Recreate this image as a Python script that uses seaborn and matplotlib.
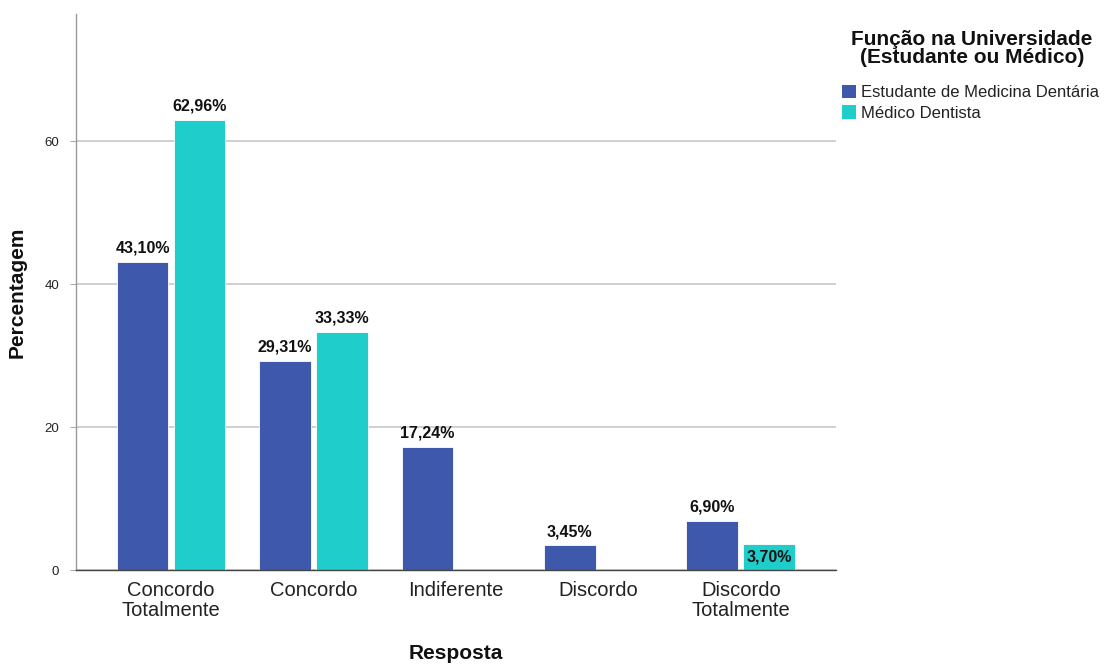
import matplotlib
matplotlib.use("Agg")
import matplotlib.pyplot as plt
from matplotlib import font_manager
import seaborn as sns
import pandas as pd

categories = ["Concordo\nTotalmente", "Concordo", "Indiferente", "Discordo", "Discordo\nTotalmente"]
groups = ["Estudante de Medicina Dentária", "Médico Dentista"]
estudante = [43.10, 29.31, 17.24, 3.45, 6.90]
medico = [62.96, 33.33, None, None, 3.70]
y_ticks = [0, 20, 40, 60]

colors = ["#3E58AC", "#1FCECB"]

rows = []
for cat, v in zip(categories, estudante):
    rows.append({"Resposta": cat, "Grupo": groups[0], "Percentagem": v})
for cat, v in zip(categories, medico):
    rows.append({"Resposta": cat, "Grupo": groups[1], "Percentagem": v})
df = pd.DataFrame(rows)

sns.set_theme(style="white")
available = {f.name for f in font_manager.fontManager.ttflist}
base_font = "Liberation Sans" if "Liberation Sans" in available else "DejaVu Sans"
label_font = "Liberation Sans Narrow" if "Liberation Sans Narrow" in available else base_font
plt.rcParams["font.family"] = [base_font, "DejaVu Sans"]

fig = plt.figure(figsize=(11.1, 6.66), dpi=100)
ax = fig.add_axes([0.0685, 0.144, 0.6845, 0.835])

sns.barplot(data=df, x="Resposta", y="Percentagem", hue="Grupo",
            order=categories, hue_order=groups, palette=colors,
            width=0.8, gap=0.09, dodge=True, saturation=1, errorbar=None,
            ax=ax, legend=False, edgecolor="white", linewidth=0.6)

ax.set_xlim(-0.667, 4.667)
ax.set_ylim(0, 77.8)
ax.set_yticks(y_ticks)
ax.set_yticklabels([str(t) for t in y_ticks], fontsize=9.5, color="#222222")
ax.tick_params(axis="y", length=4, width=0.8, color="#aaaaaa", pad=8, left=True)
ax.set_xticks(range(len(categories)))
ax.set_xticklabels(categories, fontsize=14.5, color="#222222", linespacing=1.05)
ax.tick_params(axis="x", length=0, pad=8)

ax.yaxis.grid(True, color="#c8c8c8", linewidth=1.2)
ax.set_axisbelow(True)
for s in ["top", "right"]:
    ax.spines[s].set_visible(False)
ax.spines["left"].set_color("#999999")
ax.spines["left"].set_linewidth(1.0)
ax.spines["bottom"].set_color("#444444")
ax.spines["bottom"].set_linewidth(1.0)

ax.set_xlabel("Resposta", fontsize=15, fontweight="bold", color="#111111")
ax.xaxis.set_label_coords(0.5, -0.133)
ax.set_ylabel("Percentagem", fontsize=15, fontweight="bold", color="#111111")
ax.yaxis.set_label_coords(-0.0645, 0.5)

# value labels, drawn from the same values as the bars
for container, values, inside_small in zip(ax.containers, [estudante, medico], [False, True]):
    for patch in container.patches:
        x = patch.get_x() + patch.get_width() / 2
        idx = int(round(x))
        v = values[idx]
        if v is None:
            continue
        text = f"{v:.2f}%".replace(".", ",")
        if inside_small and v < 5:
            ax.annotate(text, (x, v / 2), ha="center", va="center",
                        fontsize=11.5, fontweight="bold", family=label_font, color="#111111")
        else:
            ax.annotate(text, (x, v), xytext=(0, 4.5), textcoords="offset points",
                        ha="center", va="bottom", fontsize=11.5, fontweight="bold",
                        family=label_font, color="#111111")

fig.text(972 / 1110, 1 - 30 / 666, "Função na Universidade\n(Estudante ou Médico)",
         ha="center", va="top", fontsize=15, fontweight="bold", color="#111111",
         linespacing=0.95)
handles = [plt.Rectangle((0, 0), 1, 1, facecolor=c, edgecolor="none") for c in colors]
leg = fig.legend(handles, groups, loc="upper left",
                 bbox_to_anchor=(842 / 1110, 1 - 85 / 666), frameon=False,
                 fontsize=12, handlelength=0.85, handleheight=0.85, handletextpad=0.3,
                 labelspacing=0.3, borderaxespad=0, borderpad=0)
for t in leg.get_texts():
    t.set_color("#222222")

fig.savefig("out.png", dpi=100)
